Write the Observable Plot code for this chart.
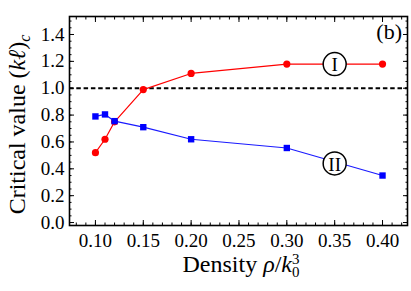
<!DOCTYPE html>
<html>
<head>
<meta charset="utf-8">
<script src="https://cdn.jsdelivr.net/npm/d3@7"></script>
<script src="https://cdn.jsdelivr.net/npm/@observablehq/plot@0.6"></script>
<style>
  html, body { margin: 0; padding: 0; background: #fff; }
  #chart svg { display: block; }
  #chart text { font-family: "Liberation Serif", "Times New Roman", serif; }
  #chart g[aria-label$="tick label"] text { font-size: 19px; }
</style>
</head>
<body>
<div id="chart"></div>
<script>
// ---- data ----
const density = [0.10, 0.11, 0.12, 0.15, 0.20, 0.30, 0.40];
const curveI  = [0.52, 0.62, 0.75, 0.99, 1.11, 1.18, 1.18];
const curveII = [0.79, 0.805, 0.755, 0.71, 0.62, 0.555, 0.35];
const xTicks = [0.10, 0.15, 0.20, 0.25, 0.30, 0.35, 0.40];
const yTicks = [0.0, 0.2, 0.4, 0.6, 0.8, 1.0, 1.2, 1.4];
const xMinor = d3.range(8, 43).map(d => d / 100);
const yMinor = d3.range(0, 31).map(d => d * 0.05);
const threshold = [1.0];
const labels = [
  {x: 0.35, y: 1.18, text: "I"},
  {x: 0.35, y: 0.44, text: "II"}
];

const rowsI  = density.map((x, i) => ({x, y: curveI[i]}));
const rowsII = density.map((x, i) => ({x, y: curveII[i]}));

const font = "'Liberation Serif', 'Times New Roman', serif";

const tickOnly = {tickFormat: () => "", label: null};

const plot = Plot.plot({
  width: 411,
  height: 291,
  marginLeft: 69,
  marginRight: 4,
  marginTop: 16,
  marginBottom: 66,
  style: {fontFamily: font, fontSize: "19px", background: "#fff", color: "#000"},
  x: {domain: [0.0729, 0.4261]},
  y: {domain: [-0.022, 1.534]},
  marks: [
    Plot.ruleY(threshold, {stroke: "#000", strokeWidth: 2, strokeDasharray: "4.5,2.8"}),
    // minor ticks (inside)
    Plot.axisX({...tickOnly, ticks: xMinor, anchor: "bottom", tickSize: -2.5}),
    Plot.axisX({...tickOnly, ticks: xMinor, anchor: "top", tickSize: -2.5}),
    Plot.axisY({...tickOnly, ticks: yMinor, anchor: "left", tickSize: -2.5}),
    Plot.axisY({...tickOnly, ticks: yMinor, anchor: "right", tickSize: -2.5}),
    // major ticks (inside)
    Plot.axisX({...tickOnly, ticks: xTicks, anchor: "bottom", tickSize: -5}),
    Plot.axisX({...tickOnly, ticks: xTicks, anchor: "top", tickSize: -5}),
    Plot.axisY({...tickOnly, ticks: yTicks, anchor: "left", tickSize: -5}),
    Plot.axisY({...tickOnly, ticks: yTicks, anchor: "right", tickSize: -5}),
    // tick labels
    Plot.axisX({ticks: xTicks, anchor: "bottom", tickSize: 0, tickPadding: 8, fontSize: 19, tickFormat: d3.format(".2f"), label: null}),
    Plot.axisY({ticks: yTicks, anchor: "left", tickSize: 0, tickPadding: 5, fontSize: 19, tickFormat: d3.format(".1f"), label: null}),
    // series I (red)
    Plot.line(rowsI, {x: "x", y: "y", stroke: "#ff0000", strokeWidth: 1.2}),
    Plot.dot(rowsI, {x: "x", y: "y", r: 3.6, fill: "#ff0000", stroke: "none"}),
    // series II (blue)
    Plot.line(rowsII, {x: "x", y: "y", stroke: "#1a1aff", strokeWidth: 1.2}),
    Plot.dot(rowsII, {x: "x", y: "y", symbol: "square", r: 3.6, fill: "#0000ff", stroke: "none"}),
    // circled labels
    Plot.dot(labels, {x: "x", y: "y", r: 11.5, fill: "#fff", stroke: "#000", strokeWidth: 1.5}),
    Plot.text(labels, {x: "x", y: "y", text: "text", fontSize: 19, dy: 1, fill: "#000"}),
    Plot.frame({stroke: "#000", strokeWidth: 1.6})
  ]
});

document.getElementById("chart").appendChild(plot);

// axis titles and panel label with italic/sub/superscript parts
const svg = d3.select(plot);
const yl = svg.append("text")
  .attr("transform", "translate(25,124.5) rotate(-90)")
  .attr("text-anchor", "middle")
  .attr("font-size", 24)
  .attr("fill", "#000");
yl.append("tspan").text("Critical value (");
yl.append("tspan").attr("font-style", "italic").text("k\u2113");
yl.append("tspan").text(")");
yl.append("tspan").attr("font-style", "italic").attr("font-size", 16).attr("dy", 5).text("c");

const xl = svg.append("text")
  .attr("x", 241)
  .attr("y", 272)
  .attr("text-anchor", "middle")
  .attr("font-size", 24)
  .attr("fill", "#000");
xl.append("tspan").text("Density ");
xl.append("tspan").attr("font-style", "italic").text("\u03c1");
xl.append("tspan").text("/");
xl.append("tspan").attr("font-style", "italic").text("k");
xl.append("tspan").attr("font-size", 15).attr("dy", 5).text("0");
xl.append("tspan").attr("font-size", 15).attr("dx", -7.5).attr("dy", -13).text("3");

svg.append("text")
  .attr("x", 402)
  .attr("y", 39)
  .attr("text-anchor", "end")
  .attr("font-size", 22)
  .attr("fill", "#000")
  .text("(b)");
</script>
</body>
</html>
